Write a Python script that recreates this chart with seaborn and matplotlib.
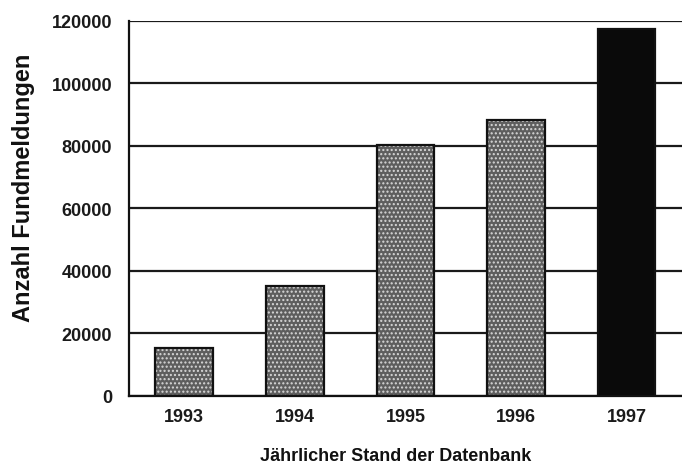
import matplotlib
matplotlib.use("Agg")
import matplotlib.pyplot as plt
import numpy as np
import pandas as pd
import seaborn as sns

# data
years = ["1993", "1994", "1995", "1996", "1997"]
counts = [15200, 35300, 80200, 88200, 117500]
bar_colors = ["#5e5e5e", "#5e5e5e", "#5e5e5e", "#5e5e5e", "#0a0a0a"]
y_ticks = [0, 20000, 40000, 60000, 80000, 100000, 120000]

df = pd.DataFrame({"year": years, "count": counts})

sns.set_style("white")
plt.rcParams["font.family"] = ["Liberation Sans", "DejaVu Sans"]

fig = plt.figure(figsize=(6.82, 4.64), dpi=100)
ax = fig.add_axes([0.189, 0.1444, 0.811, 0.8082])

# horizontal grid lines behind the bars
for v in y_ticks:
    ax.axhline(v, color="#1a1a1a", linewidth=1.6, zorder=0)

# filled bars with dotted texture
sns.barplot(data=df, x="year", y="count", hue="year", palette=bar_colors,
            legend=False, width=0.52, saturation=1, ax=ax,
            edgecolor="#d8d8d8", linewidth=0, zorder=2)
for p, c in zip(ax.patches, bar_colors):
    if c != "#0a0a0a":
        p.set_hatch("....")
# outlines
sns.barplot(data=df, x="year", y="count", fill=False, width=0.52, ax=ax,
            edgecolor="#111111", linewidth=1.6, zorder=3)

ax.set_xlim(-0.5, 4.5)
ax.set_ylim(0, 120000)
ax.set_yticks(y_ticks)
ax.set_yticklabels([str(v) for v in y_ticks], fontsize=13, fontweight="bold")
ax.set_xticks(range(5))
ax.set_xticklabels(years, fontsize=13, fontweight="bold")
ax.set_xticks(np.arange(-0.5, 4.0, 1.0), minor=True)

ax.tick_params(axis="y", which="major", direction="out", length=10, width=1.6,
               color="#111111", pad=2, labelcolor="#1a1a1a")
ax.tick_params(axis="x", which="major", length=0, pad=9, labelcolor="#1a1a1a")
ax.tick_params(axis="x", which="minor", direction="out", length=10, width=1.6,
               color="#111111")

for s in ["top", "right"]:
    ax.spines[s].set_visible(False)
for s in ["left", "bottom"]:
    ax.spines[s].set_linewidth(1.6)
    ax.spines[s].set_color("#111111")
    ax.spines[s].set_zorder(4)

ax.set_xlabel("Jährlicher Stand der Datenbank", fontsize=13, fontweight="bold",
              color="#111111")
ax.set_ylabel("Anzahl Fundmeldungen", fontsize=17, fontweight="bold",
              color="#111111")
ax.xaxis.set_label_coords(0.483, -0.135)
ax.yaxis.set_label_coords(-0.17, 0.557)

fig.savefig("out.png", dpi=100)
